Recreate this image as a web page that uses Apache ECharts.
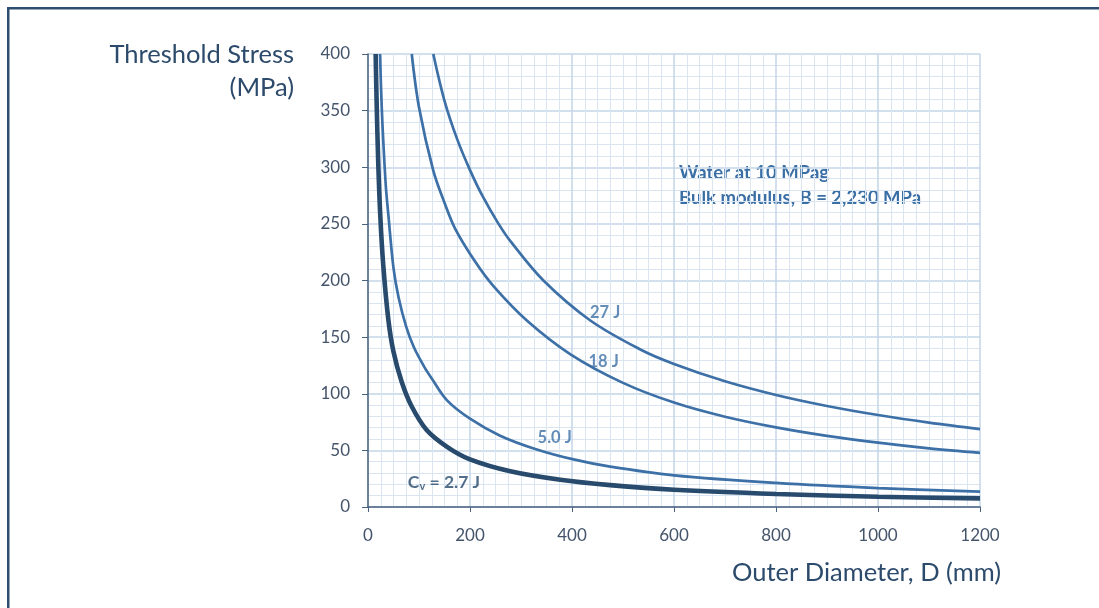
<!DOCTYPE html>
<html>
<head>
<meta charset="utf-8">
<script src="https://cdn.jsdelivr.net/npm/echarts@6/dist/echarts.min.js"></script>
<style>
html,body{margin:0;padding:0;background:#fff;}
#chart{width:1099px;height:608px;}
</style>
</head>
<body>
<div id="chart"></div>
<script>
// Outer diameter D (mm) and threshold stress (MPa) per curve
const d27 = [128, 150, 175, 200, 225, 256, 280, 344, 436, 534, 600, 700, 800, 900, 1000, 1100, 1200];
const s27 = [400, 358.7, 324.6, 297.5, 274.2, 250, 234.3, 200, 164.7, 139.1, 126.3, 111, 98.9, 89.2, 81.2, 74.5, 68.75];

const d18 = [85.8, 100, 128, 150, 171, 210, 246, 312, 397, 500, 600, 700, 800, 900, 1000, 1100, 1200];
const s18 = [400, 353, 297, 268.7, 245.6, 216.7, 195, 164.4, 134.8, 109.6, 92.2, 79.7, 70.3, 62.8, 56.8, 51.8, 47.8];

const d5 = [23.5, 27, 30, 35, 40, 50, 60, 75, 90, 110, 125, 155, 200, 259, 331, 403, 475, 600, 800, 1000, 1200];
const s5 = [400, 352, 323, 283, 257.5, 211, 185, 159, 141, 124, 113.5, 94.2, 78, 63, 50.8, 42, 35.6, 28, 21.25, 16.7, 13.6];

const d27j = [15, 17, 20, 24, 30, 40, 50, 66, 85, 115, 155, 200, 279, 377, 475, 600, 800, 1000, 1200];
const s27j = [400, 356, 305, 258, 213, 165, 137, 110.6, 89.4, 68, 53.1, 42, 31.5, 24, 19.3, 15.2, 11.5, 9.1, 7.6];

const xTicks = [0, 200, 400, 600, 800, 1000, 1200];
const yTicks = [0, 50, 100, 150, 200, 250, 300, 350, 400];

const curveLabels = [
  {text: '27 J', d: 465, s: 172},
  {text: '18 J', d: 462, s: 128},
  {text: '5.0 J', d: 366, s: 61}
];

function pairs(d, s){ return d.map((v,i)=>[v, s[i]]); }

const chart = echarts.init(document.getElementById('chart'));
const FONT = 'Lato, "Open Sans", sans-serif';
const lineBlue = '#3d70a6';
const darkBlue = '#274a6d';

function curve(name, d, s, color, width){
  return {
    name: name, type: 'line', data: pairs(d, s), smooth: 0.35, showSymbol: false,
    clip: true, lineStyle: {color: color, width: width}, z: width > 3 ? 4 : 3
  };
}

const option = {
  animation: false,
  backgroundColor: '#ffffff',
  grid: {left: 368, right: 119, top: 54, bottom: 101},
  xAxis: {
    type: 'value', min: xTicks[0], max: xTicks[xTicks.length-1], interval: 200,
    axisLine: {show: true, onZero: false, lineStyle: {color: '#4a6380', width: 1.5}},
    axisTick: {show: true, length: 5, lineStyle: {color: '#4a6380'}},
    minorTick: {show: true, splitNumber: 8, length: 0},
    minorSplitLine: {show: true, lineStyle: {color: '#d9e5f1', width: 1}},
    splitLine: {show: true, lineStyle: {color: '#c3d4e7', width: 1.5}},
    axisLabel: {color: '#44546a', fontSize: 17, fontFamily: FONT, margin: 20, formatter: v => String(v)}
  },
  yAxis: {
    type: 'value', min: yTicks[0], max: yTicks[yTicks.length-1], interval: 50,
    axisLine: {show: true, lineStyle: {color: '#4a6380', width: 1.5}},
    axisTick: {show: true, length: 6, lineStyle: {color: '#4a6380'}},
    minorTick: {show: true, splitNumber: 5, length: 0},
    minorSplitLine: {show: true, lineStyle: {color: '#d9e5f1', width: 1}},
    splitLine: {show: true, lineStyle: {color: '#c3d4e7', width: 1.5}},
    axisLabel: {color: '#44546a', fontSize: 17, fontFamily: FONT, margin: 18, formatter: v => String(v)}
  },
  series: [
    curve('27 J', d27, s27, lineBlue, 2.7),
    curve('18 J', d18, s18, lineBlue, 2.7),
    curve('5.0 J', d5, s5, lineBlue, 2.7),
    curve('2.7 J', d27j, s27j, darkBlue, 4.6),
    {
      type: 'scatter', symbolSize: 0, silent: true, z: 6,
      data: curveLabels.map(l => ({value: [l.d, l.s], label: {show: true, formatter: l.text}})),
      label: {position: 'inside', color: lineBlue, fontSize: 16.5, fontWeight: 'bold', fontFamily: FONT}
    },
    {
      type: 'scatter', symbolSize: 0, silent: true, z: 6,
      data: [[149, 22]],
      label: {
        show: true, position: 'inside',
        formatter: '{a|C}{b|v}{a| = 2.7 J}',
        rich: {
          a: {color: darkBlue, fontSize: 17.5, fontWeight: 'bold', fontFamily: FONT},
          b: {color: darkBlue, fontSize: 11, fontWeight: 'bold', fontFamily: FONT, padding: [9,0,0,0]}
        }
      }
    }
  ],
  graphic: [
    {type: 'rect', shape: {x: 7, y: 7, width: 1100, height: 2.5}, style: {fill: '#2d4e70'}},
    {type: 'rect', shape: {x: 7, y: 7, width: 2.5, height: 610}, style: {fill: '#2d4e70'}},
    {type: 'text', style: {text: 'Threshold Stress', x: 294, y: 55, align: 'right', verticalAlign: 'middle', fill: '#2c4a6b', font: '25.5px ' + FONT}},
    {type: 'text', style: {text: '(MPa)', x: 294, y: 88, align: 'right', verticalAlign: 'middle', fill: '#2c4a6b', font: '25.5px ' + FONT}},
    {type: 'text', style: {text: 'Outer Diameter, D (mm)', x: 1001, y: 573, align: 'right', verticalAlign: 'middle', fill: '#2c4a6b', font: '25.5px ' + FONT}},
    {type: 'text', style: {text: 'Water at 10 MPag', x: 679, y: 173, align: 'left', verticalAlign: 'middle', fill: '#3a6fa6', font: 'bold 18.5px ' + FONT}},
    {type: 'text', style: {text: 'Bulk modulus, B = 2,230 MPa', x: 679, y: 198, align: 'left', verticalAlign: 'middle', fill: '#3a6fa6', font: 'bold 18.5px ' + FONT}}
  ]
};
chart.setOption(option);
</script>
</body>
</html>
